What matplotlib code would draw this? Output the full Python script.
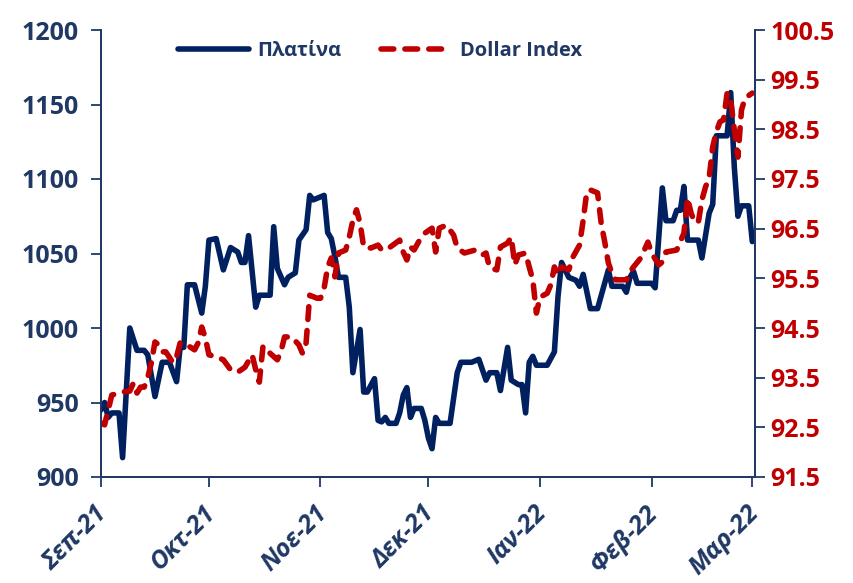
import matplotlib
matplotlib.use("Agg")
import matplotlib.pyplot as plt
import matplotlib.transforms as mtransforms
import pandas as pd

plt.rcParams['font.family'] = ['Open Sans', 'DejaVu Sans']

# ---- Data ----
plat_dates = ["2021-09-01","2021-09-02","2021-09-03","2021-09-04","2021-09-06","2021-09-07","2021-09-09",
    "2021-09-11","2021-09-13","2021-09-14","2021-09-16","2021-09-18","2021-09-20","2021-09-22","2021-09-23",
    "2021-09-24","2021-09-25","2021-09-27","2021-09-29","2021-09-30","2021-10-01","2021-10-03","2021-10-05",
    "2021-10-07","2021-10-09","2021-10-10","2021-10-11","2021-10-12","2021-10-14","2021-10-15","2021-10-18",
    "2021-10-19","2021-10-20","2021-10-22","2021-10-23","2021-10-25","2021-10-26","2021-10-28","2021-10-29",
    "2021-10-30","2021-11-02","2021-11-03","2021-11-04","2021-11-05","2021-11-06","2021-11-08","2021-11-09",
    "2021-11-10","2021-11-12","2021-11-13","2021-11-14","2021-11-16","2021-11-17","2021-11-18","2021-11-19",
    "2021-11-20","2021-11-22","2021-11-23","2021-11-24","2021-11-25","2021-11-26","2021-11-27","2021-11-29",
    "2021-11-30","2021-12-01","2021-12-02","2021-12-03","2021-12-04","2021-12-07","2021-12-09","2021-12-10",
    "2021-12-13","2021-12-15","2021-12-17","2021-12-18","2021-12-20","2021-12-21","2021-12-23","2021-12-24",
    "2021-12-26","2021-12-27","2021-12-28","2021-12-29","2021-12-30","2021-12-31","2022-01-03","2022-01-05",
    "2022-01-06","2022-01-07","2022-01-09","2022-01-11","2022-01-12","2022-01-13","2022-01-15","2022-01-17",
    "2022-01-20","2022-01-21","2022-01-24","2022-01-25","2022-01-26","2022-01-27","2022-01-28","2022-02-01",
    "2022-02-02","2022-02-04","2022-02-05","2022-02-07","2022-02-08","2022-02-09","2022-02-10","2022-02-11",
    "2022-02-14","2022-02-15","2022-02-17","2022-02-18","2022-02-19","2022-02-22","2022-02-23","2022-02-24",
    "2022-02-25","2022-02-26","2022-02-28","2022-03-01"]
plat_values = [945,950,940,943,943,913,1000,
    985,985,982,954,977,977,964,987,
    987,1029,1029,1010,1028,1059,1060,1039,
    1054,1051,1044,1044,1062,1014,1022,1022,
    1068,1040,1029,1034,1037,1059,1066,1089,
    1086,1089,1064,1060,1048,1034,1034,1014,
    970,999,957,957,966,938,937,940,
    936,936,943,955,960,940,946,946,
    938,926,919,940,936,936,970,977,
    977,979,965,970,970,958,987,965,
    962,962,943,977,981,975,975,984,
    1021,1044,1034,1032,1028,1036,1013,1013,
    1039,1028,1028,1024,1034,1038,1030,1030,
    1027,1094,1072,1072,1079,1079,1095,1059,
    1059,1047,1077,1083,1129,1129,1158,1108,
    1075,1082,1082,1058]

dxy_dates = ["2021-09-01","2021-09-02","2021-09-03","2021-09-04","2021-09-07","2021-09-09","2021-09-10",
    "2021-09-11","2021-09-12","2021-09-13","2021-09-14","2021-09-15","2021-09-16","2021-09-17","2021-09-18",
    "2021-09-19","2021-09-21","2021-09-22","2021-09-23","2021-09-24","2021-09-27","2021-09-28","2021-09-29",
    "2021-09-30","2021-10-01","2021-10-03","2021-10-05","2021-10-07","2021-10-09","2021-10-11","2021-10-13",
    "2021-10-14","2021-10-15","2021-10-16","2021-10-17","2021-10-18","2021-10-20","2021-10-21","2021-10-22",
    "2021-10-24","2021-10-26","2021-10-27","2021-10-28","2021-10-29","2021-10-31","2021-11-01","2021-11-02",
    "2021-11-03","2021-11-04","2021-11-05","2021-11-06","2021-11-08","2021-11-09","2021-11-10","2021-11-11",
    "2021-11-12","2021-11-13","2021-11-15","2021-11-17","2021-11-18","2021-11-20","2021-11-23","2021-11-24",
    "2021-11-25","2021-11-26","2021-11-27","2021-11-29","2021-11-30","2021-12-02","2021-12-03","2021-12-04",
    "2021-12-06","2021-12-08","2021-12-09","2021-12-11","2021-12-14","2021-12-16","2021-12-17","2021-12-18",
    "2021-12-20","2021-12-21","2021-12-23","2021-12-24","2021-12-25","2021-12-26","2021-12-28","2021-12-29",
    "2021-12-30","2021-12-31","2022-01-01","2022-01-02","2022-01-03","2022-01-04","2022-01-05","2022-01-06",
    "2022-01-07","2022-01-09","2022-01-10","2022-01-12","2022-01-13","2022-01-14","2022-01-15","2022-01-17",
    "2022-01-18","2022-01-19","2022-01-20","2022-01-21","2022-01-22","2022-01-25","2022-01-26","2022-01-27",
    "2022-01-29","2022-01-30","2022-01-31","2022-02-01","2022-02-03","2022-02-04","2022-02-05","2022-02-08",
    "2022-02-10","2022-02-11","2022-02-12","2022-02-13","2022-02-14","2022-02-15","2022-02-16","2022-02-17",
    "2022-02-18","2022-02-19","2022-02-20","2022-02-21","2022-02-22","2022-02-23","2022-02-24","2022-02-25",
    "2022-02-26","2022-02-27","2022-03-01"]
dxy_values = [92.59,92.55,92.85,93.15,93.21,93.23,93.39,
    93.19,93.31,93.31,93.51,93.80,94.22,94.16,94.02,
    94.02,93.80,93.92,94.20,94.20,94.06,94.20,94.52,
    94.30,93.96,93.92,93.86,93.66,93.61,93.71,93.96,
    93.66,93.41,94.12,94.12,93.99,93.86,94.02,94.32,
    94.32,94.16,93.99,94.20,95.16,95.10,95.10,95.30,
    95.73,95.91,95.53,96.01,96.07,96.33,96.67,96.88,
    96.61,96.13,96.11,96.17,96.07,96.11,96.27,96.03,
    95.87,96.13,96.07,96.33,96.41,96.51,96.03,96.51,
    96.57,96.37,96.11,96.01,96.07,95.97,96.01,95.71,
    95.67,96.13,96.21,96.33,95.77,95.97,96.01,95.73,
    95.47,94.80,95.12,95.16,95.20,95.37,95.73,95.57,
    95.73,95.67,95.91,96.17,96.67,97.24,97.28,97.22,
    96.61,96.23,95.81,95.60,95.47,95.47,95.63,95.73,
    95.91,96.07,96.23,96.01,95.77,95.83,96.03,96.07,
    96.41,97.12,96.81,96.63,96.63,97.08,97.34,97.52,
    98.15,98.45,98.65,98.69,99.23,99.09,98.49,97.94,
    98.89,99.13,99.23]

month_ticks = ["2021-09-01","2021-10-01","2021-11-01","2021-12-01","2022-01-01","2022-02-01","2022-03-01"]
month_labels = ["Σεπ-21","Οκτ-21","Νοε-21","Δεκ-21","Ιαν-22","Φεβ-22","Μαρ-22"]
left_ticks = [900, 950, 1000, 1050, 1100, 1150, 1200]
right_ticks = [91.5, 92.5, 93.5, 94.5, 95.5, 96.5, 97.5, 98.5, 99.5, 100.5]

NAVY = "#002060"
TXT = "#1F3864"
RED = "#C00000"

fig = plt.figure(figsize=(8.54, 5.83), dpi=100)
ax = fig.add_axes([101/854, 1-477/583, (755-101)/854, (477-30)/583])
ax2 = ax.twinx()

pd_plat = pd.to_datetime(plat_dates)
pd_dxy = pd.to_datetime(dxy_dates)

l1, = ax.plot(pd_plat, plat_values, color=NAVY, lw=4, solid_joinstyle='round',
              solid_capstyle='round', label="Πλατίνα")
l2, = ax2.plot(pd_dxy, dxy_values, color=RED, lw=4, linestyle=(0, (2.3, 2.0)),
               dash_capstyle='round', label="Dollar Index")

ax.set_ylim(900, 1200)
ax2.set_ylim(91.5, 100.5)
ax.set_yticks(left_ticks)
ax2.set_yticks(right_ticks)
ax2.set_yticklabels([f"{v:.1f}" for v in right_ticks])

xt = pd.to_datetime(month_ticks)
ax.set_xlim(pd.Timestamp("2021-09-01"), pd.Timestamp("2022-03-01") + pd.Timedelta(hours=18))
ax.set_xticks(xt)
ax.set_xticklabels(month_labels, rotation=45, ha='right', va='top', rotation_mode='anchor',
                   fontsize=18, fontweight='bold', fontstyle='italic', color=TXT)

for a in (ax, ax2):
    a.spines['top'].set_visible(False)
    for s in ('left', 'right', 'bottom'):
        a.spines[s].set_color(TXT)
        a.spines[s].set_linewidth(1.3)

ax.tick_params(axis='y', direction='out', length=7, width=1.3, color=TXT, pad=9,
               labelsize=18, labelcolor=TXT)
ax.tick_params(axis='x', direction='out', length=7, width=1.3, color=TXT, pad=8)
ax2.tick_params(axis='y', direction='out', length=7, width=1.3, color=TXT, pad=4,
                labelsize=18, labelcolor=RED)
for t in ax.get_yticklabels():
    t.set_fontweight('bold')
for t in ax2.get_yticklabels():
    t.set_fontweight('bold')

# shift the rotated month labels slightly left/down (after tick_params, which resets transforms)
offset = mtransforms.ScaledTranslation(-6/100, -3/100, fig.dpi_scale_trans)
for lab in ax.get_xticklabels():
    lab.set_transform(lab.get_transform() + offset)

leg = ax2.legend(handles=[l1, l2], loc='upper center', bbox_to_anchor=(0.427, 1.015), ncol=2,
                 frameon=False, handlelength=3.5, columnspacing=2.0, handletextpad=0.4,
                 prop={'size': 14.5, 'weight': 'bold'})
for t in leg.get_texts():
    t.set_color(TXT)

fig.savefig("out.png", dpi=100)
